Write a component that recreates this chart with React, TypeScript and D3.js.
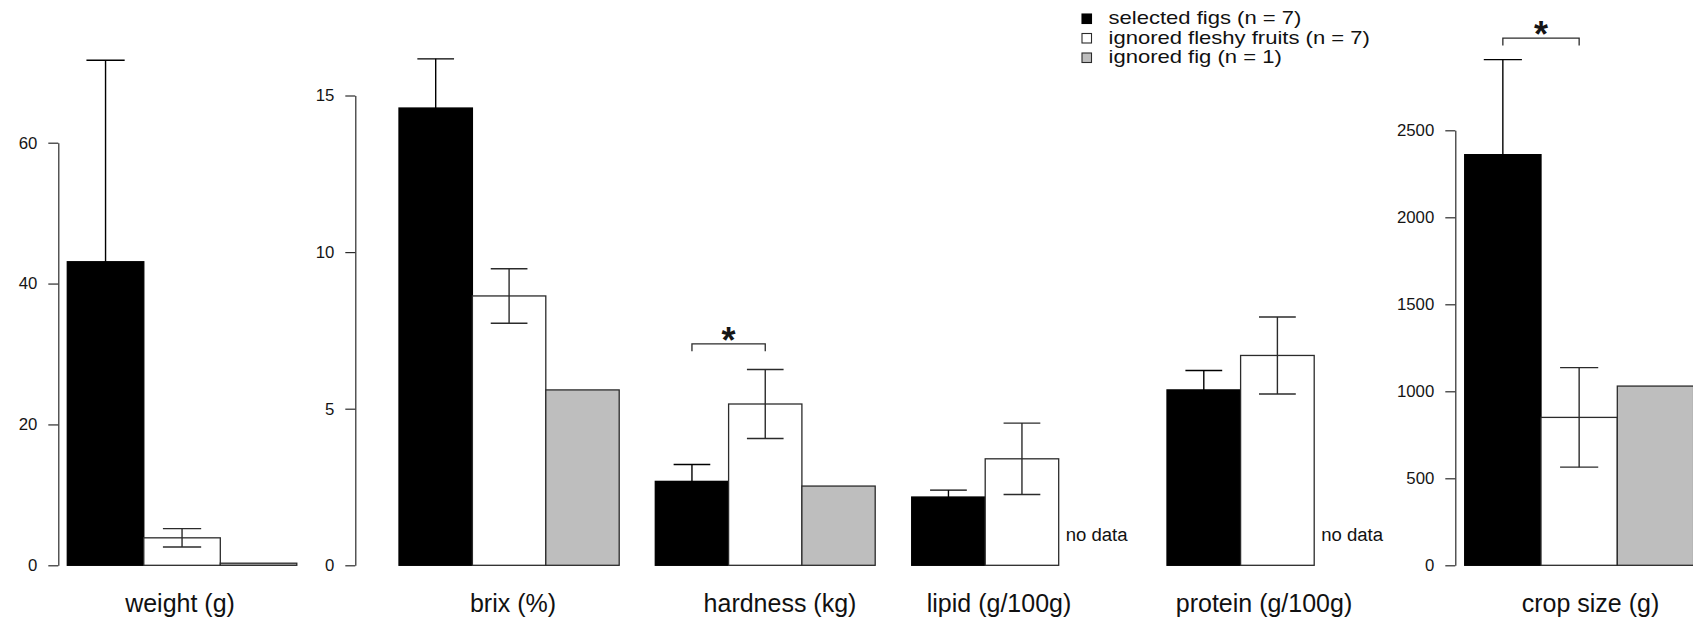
import React, { useEffect, useRef } from "react";
import * as d3 from "d3";

// Fruit traits of figs chosen by frugivores versus ignored fruits (mean ± SE)
const groups = ["selected figs (n = 7)", "ignored fleshy fruits (n = 7)", "ignored fig (n = 1)"];
const groupFill = ["#000000", "#ffffff", "#bebebe"];
const measures = ["weight (g)", "brix (%)", "hardness (kg)", "lipid (g/100g)", "protein (g/100g)", "crop size (g)"];

const selectedMean = [43.1, 14.6, 2.68, 2.18, 5.6, 2360];
const selectedSE = [28.6, 1.57, 0.54, 0.22, 0.62, 546];
const fleshyMean = [3.9, 8.6, 5.15, 3.4, 6.7, 850];
const fleshySE = [1.3, 0.87, 1.1, 1.14, 1.23, 286];
const figMean: (number | null)[] = [0.3, 5.6, 2.53, null, null, 1030];

// significant difference between selected figs and ignored fleshy fruits
const significant = [false, false, true, false, false, true];
const bracketLevel: (number | null)[] = [null, null, 7.07, null, null, 3030];

const weightTicks = [0, 20, 40, 60];
const brixTicks = [0, 5, 10, 15];
const cropTicks = [0, 500, 1000, 1500, 2000, 2500];

const FONT = "'Liberation Sans', Arial, Helvetica, sans-serif";
const Y0 = 565.3;

const scales: Record<string, d3.ScaleLinear<number, number>> = {
  weight: d3.scaleLinear().domain([0, 60]).range([Y0, 142.7]),
  brix: d3.scaleLinear().domain([0, 15]).range([Y0, 95.5]),
  crop: d3.scaleLinear().domain([0, 2500]).range([Y0, 130.3]),
};

const axes = [
  { scale: "weight", ticks: weightTicks, x: 58.3 },
  { scale: "brix", ticks: brixTicks, x: 355.3 },
  { scale: "crop", ticks: cropTicks, x: 1455.3 },
];

const panels = [
  { scale: "weight", x0: 67.3, w: 76.5, labelX: 180 },
  { scale: "brix", x0: 399, w: 73.4, labelX: 513 },
  { scale: "brix", x0: 655.3, w: 73.3, labelX: 780 },
  { scale: "brix", x0: 911.7, w: 73.5, labelX: 999 },
  { scale: "brix", x0: 1167, w: 73.6, labelX: 1264 },
  { scale: "crop", x0: 1464.7, w: 76.3, labelX: 1590.5 },
];

const LINE = "#2b2b2b";

function StretchText({ x, y, sx, size, anchor = "middle", children }: any) {
  return (
    <g transform={`translate(${x},${y}) scale(${sx},1)`}>
      <text x={0} y={0} fontSize={size} fontFamily={FONT} textAnchor={anchor} fill="#111">
        {children}
      </text>
    </g>
  );
}

function Axis({ scale, ticks, x }: { scale: d3.ScaleLinear<number, number>; ticks: number[]; x: number }) {
  const ref = useRef<SVGGElement>(null);
  useEffect(() => {
    if (!ref.current) return;
    const g = d3.select(ref.current);
    g.selectAll("*").remove();
    g.call(
      d3
        .axisLeft(scale)
        .tickValues(ticks)
        .tickSize(10)
        .tickSizeOuter(0)
        .tickPadding(11)
        .tickFormat(d3.format("d"))
    );
    g.attr("font-size", 16.8).attr("font-family", FONT).attr("color", LINE);
    g.selectAll("path, line").attr("stroke-width", 1.2);
    g.selectAll("text").attr("fill", "#151515");
  }, [scale, ticks]);
  return <g ref={ref} transform={`translate(${x},0)`} />;
}

function Panel({ i }: { i: number }) {
  const p = panels[i];
  const y = scales[p.scale];
  const xb = d3
    .scaleBand<number>()
    .domain([0, 1, 2])
    .range([p.x0, p.x0 + 3 * p.w])
    .padding(0);
  const means = [selectedMean[i], fleshyMean[i], figMean[i]];
  const ses = [selectedSE[i], fleshySE[i], null];
  const bw = xb.bandwidth();
  const cap = bw * 0.25;

  return (
    <g>
      {means.map((m, k) => {
        const v = m ?? 0;
        return (
          <rect
            key={`b${k}`}
            x={xb(k)!}
            y={y(v)}
            width={bw}
            height={Y0 - y(v)}
            fill={groupFill[k]}
            stroke={k === 0 ? "#000" : LINE}
            strokeWidth={1.3}
          />
        );
      })}
      {means.map((m, k) =>
        m == null ? (
          <StretchText key={`n${k}`} x={xb(k)! + 7} y={541} sx={1.03} size={18} anchor="start">
            no data
          </StretchText>
        ) : null
      )}
      {means.map((m, k) => {
        const se = ses[k];
        if (m == null || se == null) return null;
        const cx = xb(k)! + bw / 2;
        const hi = y(m + se);
        const lo = y(m - se);
        const c = k === 0 ? "#000" : LINE;
        return (
          <g key={`e${k}`} stroke={c} strokeWidth={1.4} fill="none">
            <line x1={cx} x2={cx} y1={hi} y2={lo} />
            <line x1={cx - cap} x2={cx + cap} y1={hi} y2={hi} />
            <line x1={cx - cap} x2={cx + cap} y1={lo} y2={lo} />
          </g>
        );
      })}
      {significant[i] && bracketLevel[i] != null && (() => {
        const by = y(bracketLevel[i] as number);
        const xa = xb(0)! + bw / 2;
        const xc = xb(1)! + bw / 2;
        return (
          <g>
            <path
              d={`M${xa},${by + 7.5}V${by}H${xc}V${by + 7.5}`}
              fill="none"
              stroke={LINE}
              strokeWidth={1.3}
            />
            <text
              x={(xa + xc) / 2}
              y={by + 9}
              fontSize={36}
              fontWeight="bold"
              fontFamily={FONT}
              textAnchor="middle"
              fill="#151515"
            >
              *
            </text>
          </g>
        );
      })()}
      <StretchText x={p.labelX} y={611.5} sx={1} size={25}>
        {measures[i]}
      </StretchText>
    </g>
  );
}

function Legend() {
  const x0 = 1082;
  const rowY = [24, 43.5, 63];
  return (
    <g>
      {groups.map((g, k) => (
        <g key={g}>
          <rect
            x={x0}
            y={rowY[k] - 10}
            width={9.5}
            height={9.5}
            fill={groupFill[k]}
            stroke={k === 0 ? "#000" : LINE}
            strokeWidth={1.1}
          />
          <StretchText x={x0 + 26.5} y={rowY[k]} sx={1.16} size={19} anchor="start">
            {g}
          </StretchText>
        </g>
      ))}
    </g>
  );
}

export default function App() {
  return (
    <svg
      width={1693}
      height={625}
      viewBox="0 0 1693 625"
      style={{ position: "absolute", left: 0, top: 0, background: "#fff" }}
    >
      <rect x={0} y={0} width={1693} height={625} fill="#fff" />
      {axes.map((a) => (
        <Axis key={a.scale} scale={scales[a.scale]} ticks={a.ticks} x={a.x} />
      ))}
      {panels.map((_, i) => (
        <Panel key={i} i={i} />
      ))}
      <Legend />
    </svg>
  );
}
